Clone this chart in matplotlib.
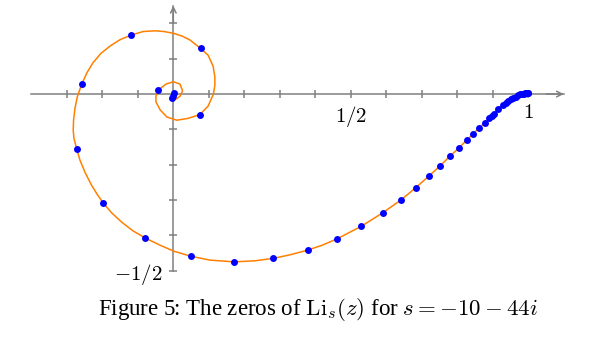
import numpy as np
import matplotlib
matplotlib.use('Agg')
import matplotlib.pyplot as plt

# ---- data --------------------------------------------------------------------
# orange spiral, traced from the centre outwards to z = 1
curve_x = [-0.004, 0.008, 0.019, 0.026, 0.019, 0.000, -0.021, -0.040, -0.049,
           -0.049, -0.037, -0.018, 0.010, 0.041, 0.075, 0.098, 0.113, 0.117,
           0.117, 0.112, 0.098, 0.077, 0.047, 0.025, 0.000, -0.026, -0.052,
           -0.085, -0.119, -0.150, -0.178, -0.204, -0.226, -0.243, -0.258,
           -0.270, -0.277, -0.281, -0.282, -0.280, -0.272, -0.263, -0.249,
           -0.232, -0.215, -0.197, -0.173, -0.145, -0.114, -0.080, -0.037, 0.002,
           0.049, 0.103, 0.171, 0.230, 0.282, 0.329, 0.378, 0.419, 0.461, 0.530,
           0.590, 0.641, 0.683, 0.720, 0.752, 0.779, 0.805, 0.826, 0.845, 0.862,
           0.877, 0.890, 0.915, 0.944, 0.972, 0.985, 1.000]
curve_y = [-0.008, -0.014, -0.006, 0.009, 0.028, 0.035, 0.028, 0.013, -0.006,
           -0.022, -0.045, -0.065, -0.074, -0.069, -0.058, -0.034, 0.000, 0.025,
           0.049, 0.079, 0.110, 0.129, 0.153, 0.164, 0.172, 0.177, 0.179,
           0.177, 0.167, 0.154, 0.136, 0.115, 0.089, 0.061, 0.028,
           -0.006, -0.040, -0.074, -0.102, -0.125, -0.156, -0.187, -0.221,
           -0.255, -0.283, -0.309, -0.337, -0.363, -0.387, -0.407, -0.428, -0.445,
           -0.459, -0.470, -0.475, -0.472, -0.465, -0.455, -0.442, -0.428, -0.410,
           -0.374, -0.336, -0.300, -0.265, -0.232, -0.203, -0.176, -0.152, -0.131,
           -0.112, -0.095, -0.082, -0.069, -0.041, -0.019, -0.003, 0.001, 0.004]

# zeros (blue dots)
zeros_x = [0.002, -0.002, -0.005, -0.043, 0.075, 0.077, -0.119, -0.258, -0.272,
           -0.197, -0.080, 0.049, 0.171, 0.282, 0.378, 0.461, 0.530, 0.590,
           0.641, 0.683, 0.720, 0.752, 0.779, 0.805, 0.826, 0.845, 0.862, 0.877,
           0.890, 0.897, 0.904, 0.915, 0.929, 0.936, 0.944, 0.950, 0.957, 0.965,
           0.972, 0.977, 0.982, 0.987, 0.991, 0.994, 0.996, 0.998, 1.000]
zeros_y = [0.002, -0.006, -0.011, 0.011, -0.058, 0.129, 0.167, 0.028, -0.156,
           -0.309, -0.407, -0.459, -0.475, -0.465, -0.442, -0.410, -0.374, -0.336,
           -0.300, -0.265, -0.232, -0.203, -0.176, -0.152, -0.131, -0.112, -0.095,
           -0.082, -0.069, -0.063, -0.057, -0.041, -0.030, -0.024, -0.019, -0.015,
           -0.011, -0.007, -0.003, -0.001, 0.000, 0.001, 0.002, 0.003, 0.003,
           0.0035, 0.004]

x_ticks = [-0.3, -0.2, -0.1, 0.1, 0.2, 0.3, 0.4, 0.5, 0.6, 0.7, 0.8, 0.9, 1.0]
y_ticks = [0.2, 0.1, -0.1, -0.2, -0.3, -0.4, -0.5]
x_labels = {0.5: r'$1/2$', 1.0: r'$1$'}
y_labels = {-0.5: r'$-1/2$'}
caption = r'Figure 5: The zeros of $\mathrm{Li}_s(z)$ for $s = -10 - 44i$'

# ---- figure ------------------------------------------------------------------
plt.rcParams['font.family'] = ['Liberation Serif', 'DejaVu Serif']
plt.rcParams['mathtext.fontset'] = 'cm'

grey = '#808080'
fig = plt.figure(figsize=(6, 3.5), dpi=100)
ax = fig.add_axes([0.0522, 0.2266, 0.8875, 0.757])
ax.set_xlim(-0.4, 1.1)
ax.set_ylim(-0.5, 0.25)

for side in ['top', 'right']:
    ax.spines[side].set_visible(False)
for side in ['left', 'bottom']:
    ax.spines[side].set_position(('data', 0))
    ax.spines[side].set_color(grey)
    ax.spines[side].set_linewidth(1.1)
    ax.spines[side].set_zorder(1)

ax.set_xticks(x_ticks)
ax.set_xticklabels([x_labels.get(round(t, 1), '') for t in x_ticks])
ax.set_yticks(y_ticks)
ax.set_yticklabels([y_labels.get(round(t, 1), '') for t in y_ticks])
ax.tick_params(direction='inout', length=6, width=1.1, color=grey,
               labelcolor='black', labelsize=15)
ax.tick_params(axis='x', pad=4)
ax.tick_params(axis='y', pad=5)

# arrow heads at the positive ends of the axes
ax.annotate('', xy=(1.1, 0), xytext=(1.05, 0),
            arrowprops=dict(arrowstyle='->', color=grey, lw=1.1,
                            shrinkA=0, shrinkB=0), annotation_clip=False)
ax.annotate('', xy=(0, 0.25), xytext=(0, 0.2),
            arrowprops=dict(arrowstyle='->', color=grey, lw=1.1,
                            shrinkA=0, shrinkB=0), annotation_clip=False)

ax.plot(curve_x, curve_y, color='#ff8000', lw=1.1, zorder=3, clip_on=False,
        solid_joinstyle='round')
ax.plot(zeros_x, zeros_y, 'o', color='#0000ff', ms=5, mec='none',
        zorder=4, clip_on=False)

fig.text(0.529, 0.1, caption, ha='center', va='baseline', fontsize=16.5)

fig.savefig('out.png', dpi=100)
